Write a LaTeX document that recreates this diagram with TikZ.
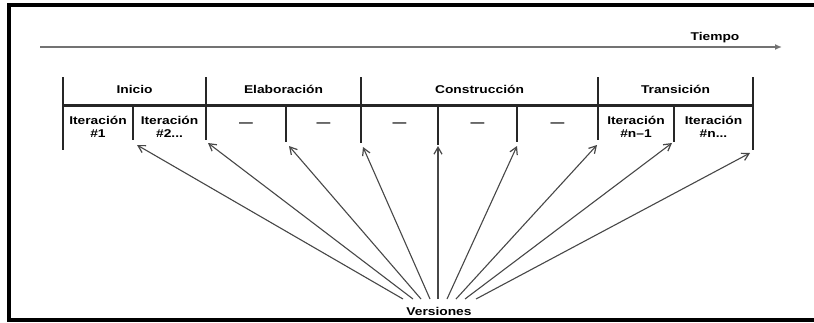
\documentclass[tikz,border=0pt]{standalone}
\usepackage{fontspec}
\setmainfont{Liberation Sans}[FakeStretch=1.22]
\usetikzlibrary{arrows.meta}
\begin{document}
\begin{tikzpicture}[x=1pt,y=-1pt,
  lab/.style={font=\fontsize{11.3}{13}\selectfont\bfseries, inner sep=0pt},
  cell/.style={lab, align=center},
  phase/.style={line width=2.6pt, black!85},
  sub/.style={line width=1.6pt, black!85},
  ver/.style={draw=black!72, line width=1.1pt, -{Straight Barb[length=7pt,width=8pt,line width=1.2pt]}}]
\useasboundingbox (0,0) rectangle (814,322);
% frame
\draw[line width=4pt] (818,5) -- (9,5) -- (9,320) -- (818,320);
% time axis
\coordinate (t0) at (40,47);
\coordinate (t1) at (782,47);
\draw[line width=1.8pt, black!55, -{Latex[length=7pt,width=6pt]}] (t0) -- (t1);
\node[lab] (tiempo) at (715,38) {Tiempo};
% phase ticks
\foreach \n/\x/\b in {p0/63/150, p1/206/140, p2/361/143, p3/598/140, p4/753/150}{
  \coordinate (\n top) at (\x,77);
  \coordinate (\n bot) at (\x,\b);
  \draw[phase] (\n top) -- (\n bot);
}
\draw[line width=3pt, black!85] (p0top |- 0,105) -- (p4top |- 0,105);
% sub ticks
\foreach \n/\x/\b in {s1/133/140, s2/286/142, s3/438/145, s4/517/142, s5/674/142}{
  \coordinate (\n top) at (\x,105);
  \coordinate (\n bot) at (\x,\b);
  \draw[sub] (\n top) -- (\n bot);
}
% phase labels
\node[lab] (inicio) at (134.5,89) {Inicio};
\node[lab] (elab) at (283.5,89) {Elaboración};
\node[lab] (cons) at (479.5,89) {Construcción};
\node[lab] (tran) at (675.5,89) {Transición};
% cell labels
\node[cell] (c1) at (98,127) {Iteración\\\#1};
\node[cell] (c2) at (169.5,127) {Iteración\\\#2...};
\node[lab] (c3) at (246,125) {—};
\node[lab] (c4) at (323.5,125) {—};
\node[lab] (c5) at (399.5,125) {—};
\node[lab] (c6) at (477.5,125) {—};
\node[lab] (c7) at (557.5,125) {—};
\node[cell] (c8) at (636,127) {Iteración\\\#n–1};
\node[cell] (c9) at (713.5,127) {Iteración\\\#n...};
% versiones
\node[lab] (ver) at (439,311) {Versiones};
\foreach \i/\sx/\ex/\ey in {1/403/137/145, 2/413/208/143, 3/421/289/146, 4/430/363/147,
  5/438/438/146, 6/447/517/146, 7/456/597/145, 8/465/672/143, 9/476/750/153}{
  \coordinate (vs\i) at (\sx,299);
  \coordinate (ve\i) at (\ex,\ey);
  \draw[ver] (vs\i) -- (ve\i);
}
\end{tikzpicture}
\end{document}
